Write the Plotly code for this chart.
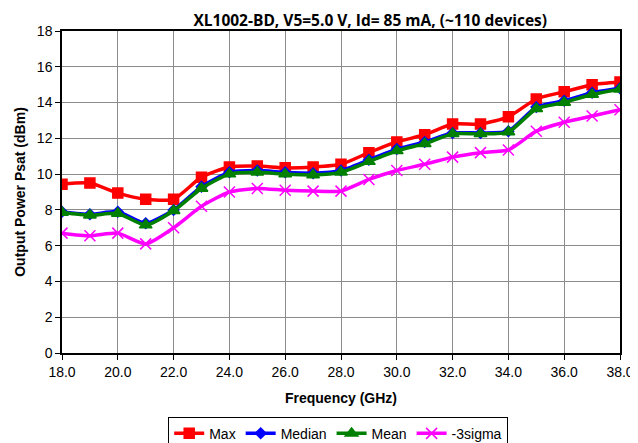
import plotly.graph_objects as go

freq = [18, 19, 20, 21, 22, 23, 24, 25, 26, 27, 28, 29, 30, 31, 32, 33, 34, 35, 36, 37, 38]
max_v = [9.44, 9.5, 8.94, 8.6, 8.6, 9.83, 10.4, 10.45, 10.35, 10.4, 10.55, 11.2, 11.8, 12.2, 12.8, 12.8, 13.2, 14.2, 14.6, 15.0, 15.15]
median_v = [7.9, 7.75, 7.9, 7.25, 8.0, 9.3, 10.1, 10.2, 10.1, 10.05, 10.2, 10.8, 11.4, 11.8, 12.3, 12.3, 12.4, 13.75, 14.1, 14.55, 14.8]
mean_v = [7.85, 7.7, 7.8, 7.15, 7.95, 9.2, 10.0, 10.1, 10.0, 9.95, 10.1, 10.7, 11.3, 11.7, 12.25, 12.25, 12.35, 13.65, 14.0, 14.45, 14.75]
sigma_v = [6.7, 6.55, 6.7, 6.1, 7.0, 8.2, 9.0, 9.2, 9.1, 9.05, 9.05, 9.7, 10.2, 10.55, 10.95, 11.2, 11.35, 12.4, 12.9, 13.25, 13.6]

x_ticks = [18, 20, 22, 24, 26, 28, 30, 32, 34, 36, 38]
x_labels = ["18.0", "20.0", "22.0", "24.0", "26.0", "28.0", "30.0", "32.0", "34.0", "36.0", "38.0"]

series = [
    ("Max", max_v, "#ff0000", "square", 10),
    ("Median", median_v, "#0000ff", "diamond", 8),
    ("Mean", mean_v, "#008000", "triangle-up", 11),
    ("-3sigma", sigma_v, "#ff00ff", "x-thin-open", 11),
]

fig = go.Figure()
for name, vals, color, sym, size in series:
    fig.add_trace(go.Scatter(
        x=freq, y=vals, name=name, mode="lines+markers",
        line=dict(color=color, width=3.5, shape="spline", smoothing=0.6),
        marker=dict(symbol=sym, size=size, color=color,
                    line=dict(color=color, width=1.5)),
    ))

fig.update_layout(
    template="none",
    width=630, height=435,
    margin=dict(l=54, r=18, t=23, b=90, autoexpand=False),
    paper_bgcolor="white", plot_bgcolor="white",
    title=dict(text="<b>XL1002-BD, V5=5.0 V, Id= 85 mA, (~110 devices)</b>",
               x=0.575, xanchor="center", y=0.972, yanchor="middle",
               font=dict(family="Open Sans", size=15.5, color="black")),
    font=dict(family="Liberation Sans", size=14, color="black"),
    xaxis=dict(
        range=[18, 38], tickvals=x_ticks, ticktext=x_labels,
        showgrid=True, gridcolor="#8c8c8c", gridwidth=1.2,
        showline=True, linecolor="black", linewidth=1.5, mirror=True,
        ticks="outside", ticklen=5, tickcolor="black",
        zeroline=False, automargin=False,
        title=dict(text="<b>Frequency (GHz)</b>", font=dict(size=14), standoff=15),
    ),
    yaxis=dict(
        range=[0, 18], dtick=2,
        showgrid=True, gridcolor="#8c8c8c", gridwidth=1.2,
        showline=True, linecolor="black", linewidth=1.5, mirror=True,
        ticks="outside", ticklen=5, tickcolor="black",
        zeroline=False, automargin=False,
        title=dict(text="<b>Output Power Psat (dBm)</b>", font=dict(size=14), standoff=8),
    ),
    legend=dict(orientation="h", x=0.495, xanchor="center", y=-0.198, yanchor="top",
                bordercolor="black", borderwidth=1, font=dict(size=14),
                itemwidth=30, tracegroupgap=0),
    showlegend=True,
)

fig.write_html("out.html")
